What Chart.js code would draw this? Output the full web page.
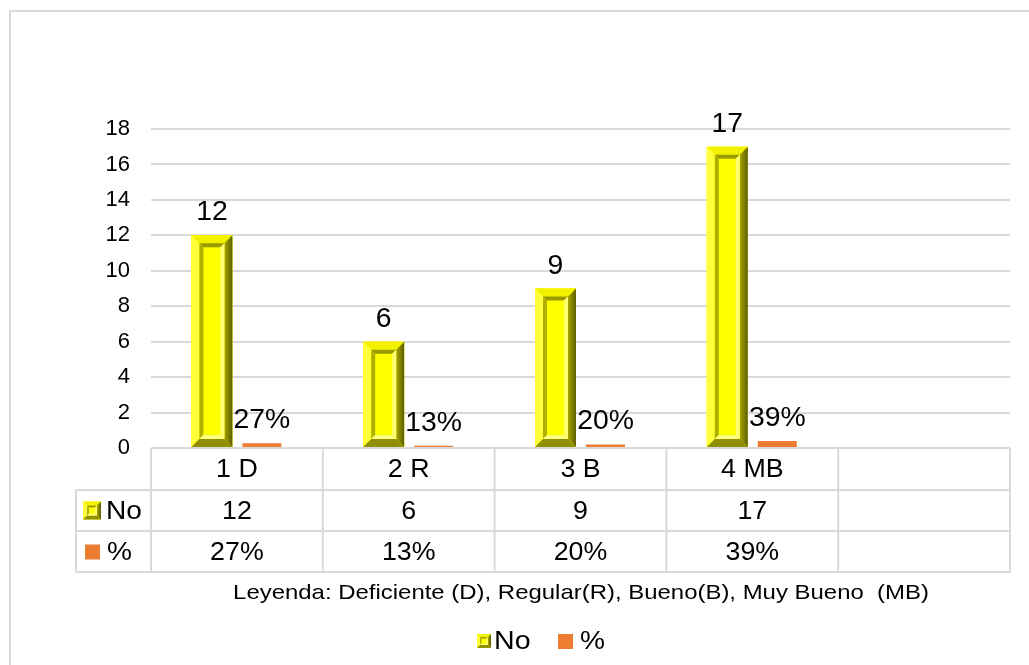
<!DOCTYPE html>
<html>
<head>
<meta charset="utf-8">
<script src="https://cdn.jsdelivr.net/npm/chart.js@4"></script>
<style>
html,body{margin:0;padding:0;background:#fff;}
#wrap{width:1029px;height:665px;position:relative;}
</style>
</head>
<body>
<div id="wrap"><canvas id="c" width="1029" height="665"></canvas></div>
<script>
const categories = ['1 D', '2 R', '3 B', '4 MB', ''];
const seriesNames = ['No', '%'];
const noValues = [12, 6, 9, 17, null];
const pctValues = [0.27, 0.13, 0.20, 0.39, null];
const yMin = 0, yMax = 18, yStep = 2;
const legendNote = 'Leyenda: Deficiente (D), Regular(R), Bueno(B), Muy Bueno  (MB)';

const FONT = "'Liberation Sans', Arial, sans-serif";
const YELLOW = '#ffff00';
const ORANGE = '#ed7d31';
const GRID = '#d9d9d9';

function fmtPct(v){ return Math.round(v*100) + '%'; }

function poly(ctx, pts, fill){
  ctx.beginPath();
  ctx.moveTo(pts[0][0], pts[0][1]);
  for (let i=1;i<pts.length;i++) ctx.lineTo(pts[i][0], pts[i][1]);
  ctx.closePath();
  ctx.fillStyle = fill;
  ctx.fill();
}

// text drawn with a slight horizontal stretch, like the reference rendering
function sText(ctx, txt, x, y, sx){
  ctx.save();
  ctx.translate(x, y);
  ctx.scale(sx, 1);
  ctx.fillText(txt, 0, 0);
  ctx.restore();
}

function bevel(ctx, x0, y0, x1, y1, b){
  const w = x1-x0, h = y1-y0;
  b = Math.min(b, w/3, h/3);
  ctx.save();
  ctx.fillStyle = YELLOW;
  ctx.fillRect(x0, y0, w, h);
  poly(ctx, [[x0,y0],[x1,y0],[x1-b,y0+b],[x0+b,y0+b]], '#f2f200');
  poly(ctx, [[x0,y0],[x0+b,y0+b],[x0+b,y1-b],[x0,y1]], '#ffff3a');
  const gr = ctx.createLinearGradient(x1-b,0,x1,0);
  gr.addColorStop(0,'#a6a600'); gr.addColorStop(1,'#5e5e00');
  poly(ctx, [[x1,y0],[x1,y1],[x1-b,y1-b],[x1-b,y0+b]], gr);
  poly(ctx, [[x0,y1],[x0+b,y1-b],[x1-b,y1-b],[x1,y1]], '#8f8f00');
  const ix0=x0+b, iy0=y0+b, ix1=x1-b, iy1=y1-b;
  const b2 = Math.min(b*0.5, (ix1-ix0)/3, (iy1-iy0)/3);
  if (b2 > 0.5){
    poly(ctx, [[ix0,iy0],[ix1,iy0],[ix1-b2,iy0+b2],[ix0+b2,iy0+b2]], '#999900');
    poly(ctx, [[ix0,iy0],[ix0+b2,iy0+b2],[ix0+b2,iy1-b2],[ix0,iy1]], '#b0b000');
    poly(ctx, [[ix1,iy0],[ix1,iy1],[ix1-b2,iy1-b2],[ix1-b2,iy0+b2]], '#ffff70');
    poly(ctx, [[ix0,iy1],[ix0+b2,iy1-b2],[ix1-b2,iy1-b2],[ix1,iy1]], '#ffff80');
  }
  ctx.restore();
}

const excelPlugin = {
  id: 'excelLook',
  beforeDraw(chart){
    const ctx = chart.ctx;
    ctx.save();
    ctx.fillStyle = '#fff';
    ctx.fillRect(0,0,chart.width,chart.height);
    ctx.strokeStyle = GRID;
    ctx.lineWidth = 2;
    ctx.strokeRect(10, 11, chart.width + 20, chart.height + 20);
    ctx.restore();
  },
  afterDatasetsDraw(chart){
    const ctx = chart.ctx;
    const m0 = chart.getDatasetMeta(0);
    m0.data.forEach((el, i) => {
      if (noValues[i] == null) return;
      const p = el.getProps(['x','y','base','width'], true);
      bevel(ctx, p.x - p.width/2, p.y, p.x + p.width/2, p.base, 8);
    });
    ctx.save();
    ctx.fillStyle = '#000';
    ctx.font = '27px ' + FONT;
    ctx.textAlign = 'center';
    ctx.textBaseline = 'alphabetic';
    [0,1].forEach(d => {
      chart.getDatasetMeta(d).data.forEach((el, i) => {
        const v = d === 0 ? noValues[i] : pctValues[i];
        if (v == null) return;
        const txt = d === 0 ? String(v) : fmtPct(v);
        sText(ctx, txt, el.x, el.y - 15, 1.05);
      });
    });
    ctx.restore();
  },
  afterDraw(chart){
    const ctx = chart.ctx;
    const xs = chart.scales.x;
    const ca = chart.chartArea;
    const n = categories.length;
    const cw = xs.getPixelForValue(1) - xs.getPixelForValue(0);
    const top = ca.bottom, r1 = top + 42, r2 = r1 + 41, r3 = r2 + 41;
    const tLeft = 76;
    ctx.save();
    ctx.strokeStyle = GRID;
    ctx.lineWidth = 2;
    ctx.beginPath();
    ctx.moveTo(ca.left, top); ctx.lineTo(ca.right, top);
    [r1, r2, r3].forEach(y => { ctx.moveTo(tLeft, y); ctx.lineTo(ca.right, y); });
    for (let i=0;i<=n;i++){
      const x = xs.getPixelForValue(0) - cw/2 + i*cw;
      ctx.moveTo(x, top); ctx.lineTo(x, r3);
    }
    ctx.moveTo(tLeft, r1); ctx.lineTo(tLeft, r3);
    ctx.stroke();

    ctx.fillStyle = '#000';
    ctx.font = '26px ' + FONT;
    ctx.textAlign = 'center';
    ctx.textBaseline = 'middle';
    for (let i=0;i<n;i++){
      const cx = xs.getPixelForValue(i);
      sText(ctx, categories[i], cx, (top+r1)/2 + 1, 1.03);
      if (noValues[i] != null) sText(ctx, String(noValues[i]), cx, (r1+r2)/2 + 1, 1.03);
      if (pctValues[i] != null) sText(ctx, fmtPct(pctValues[i]), cx, (r2+r3)/2 + 1, 1.03);
    }
    bevel(ctx, 83, (r1+r2)/2 - 9, 101, (r1+r2)/2 + 9, 4);
    ctx.fillStyle = ORANGE;
    ctx.fillRect(85, (r2+r3)/2 - 7, 15, 15);
    ctx.fillStyle = '#000';
    ctx.textAlign = 'left';
    sText(ctx, seriesNames[0], 106, (r1+r2)/2 + 1, 1.08);
    sText(ctx, seriesNames[1], 107, (r2+r3)/2 + 1, 1.08);

    ctx.font = '21px ' + FONT;
    ctx.textAlign = 'center';
    sText(ctx, legendNote, 581, 593, 1.14);

    const ly = 641;
    bevel(ctx, 477, ly - 7, 491, ly + 7, 3);
    ctx.font = '26px ' + FONT;
    ctx.textAlign = 'left';
    ctx.fillStyle = '#000';
    sText(ctx, seriesNames[0], 494, ly + 1, 1.1);
    ctx.fillStyle = ORANGE;
    ctx.fillRect(558, ly - 7, 15, 15);
    ctx.fillStyle = '#000';
    sText(ctx, seriesNames[1], 580, ly + 1, 1.08);
    ctx.restore();
  }
};

new Chart(document.getElementById('c'), {
  type: 'bar',
  data: {
    labels: categories,
    datasets: [
      { label: seriesNames[0], data: noValues, backgroundColor: YELLOW, borderWidth: 0,
        categoryPercentage: 0.582, barPercentage: 0.82 },
      { label: seriesNames[1], data: pctValues, backgroundColor: ORANGE, borderWidth: 0,
        categoryPercentage: 0.582, barPercentage: 0.78 }
    ]
  },
  options: {
    responsive: false,
    animation: false,
    events: [],
    layout: { padding: { left: 0, top: 129, right: 19, bottom: 217 } },
    plugins: { legend: { display: false }, tooltip: { enabled: false } },
    scales: {
      x: { display: false },
      y: {
        min: yMin, max: yMax,
        ticks: { stepSize: yStep, padding: 21, color: '#000', font: { family: FONT, size: 22 } },
        grid: { color: GRID, lineWidth: 2, drawTicks: false },
        border: { display: false },
        afterFit(scale){ scale.width = 151; }
      }
    }
  },
  plugins: [excelPlugin]
});
</script>
</body>
</html>
